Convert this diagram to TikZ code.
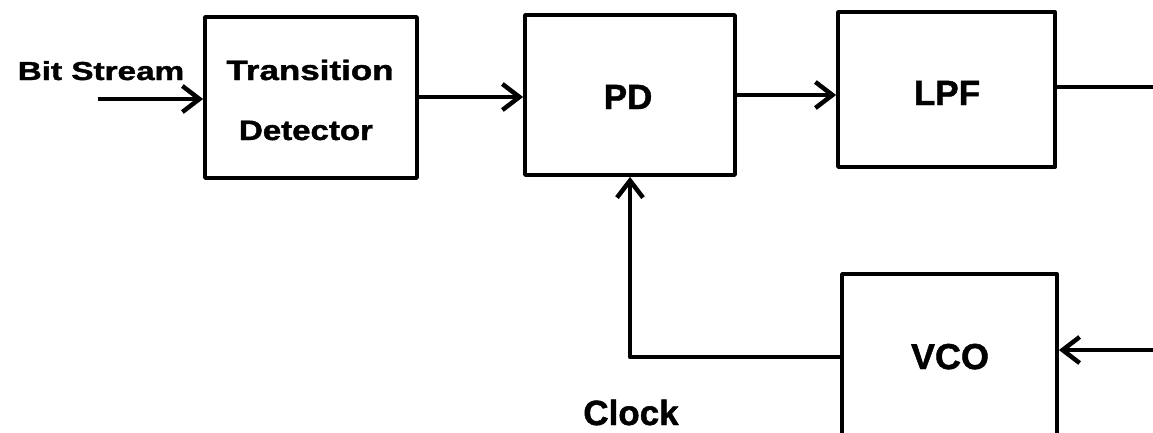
\documentclass[tikz,border=0pt]{standalone}
\usepackage{fontspec}
\setmainfont{Liberation Sans}[BoldFeatures={FakeBold=1.3}]
\usetikzlibrary{arrows.meta}
\tikzset{
  blk/.style={draw, line width=3.8pt, line join=round, inner sep=0pt},
  conn/.style={line width=4.2pt, line join=round},
  arr/.style={conn, -{Straight Barb[length=17pt,width=26pt,line width=4.5pt]}},
  lbl/.style={font=\bfseries, inner sep=0pt, anchor=base},
}
\begin{document}
\begin{tikzpicture}[x=1pt,y=-1pt]
\path[use as bounding box] (0,0) rectangle (1153,432);
\clip (0,0) rectangle (1153,432);
% blocks
\node[blk, minimum width=212pt, minimum height=161pt] (td) at (311,97.5) {};
\node[blk, minimum width=210pt, minimum height=160pt] (pd) at (630,95) {};
\node[blk, minimum width=217pt, minimum height=155pt] (lpf) at (946.5,89.5) {};
\node[blk, minimum width=215pt, minimum height=170pt] (vco) at (949.5,359) {};
% labels
\node[lbl, font=\fontsize{26}{30}\selectfont\bfseries, xscale=1.28] (bs) at (101,80) {Bit Stream};
\node[lbl, font=\fontsize{28}{32}\selectfont\bfseries, xscale=1.25] (t1) at (310,80) {Transition};
\node[lbl, font=\fontsize{28}{32}\selectfont\bfseries, xscale=1.18] (t2) at (306,140) {Detector};
\node[lbl, font=\fontsize{35}{40}\selectfont\bfseries] (tpd) at (628,109) {PD};
\node[lbl, font=\fontsize{35}{40}\selectfont\bfseries] (tlpf) at (947,105) {LPF};
\node[lbl, font=\fontsize{36}{40}\selectfont\bfseries] (tvco) at (950,369) {VCO};
\node[lbl, font=\fontsize{35}{40}\selectfont\bfseries] (clk) at (631,425) {Clock};
% coordinates
\coordinate (bsin) at (98,99);
\coordinate (lpfout) at (1160,87);
\coordinate (vcoin) at (1160,350);
\coordinate (vcoout) at (842,357);
\coordinate (corner) at (630,357);
% connectors
\draw[arr] (bsin) -- (bsin -| td.west);
\draw[arr] (td.east |- 0,97) -- (pd.west |- 0,97);
\draw[arr] (pd.east |- 0,95) -- (lpf.west |- 0,95);
\draw[conn] (lpf.east |- lpfout) -- (lpfout);
\draw[arr] (vcoin) -- (vcoin -| vco.east);
\draw[arr] (vcoout) -- (corner) -- (pd.south);
\end{tikzpicture}
\end{document}
